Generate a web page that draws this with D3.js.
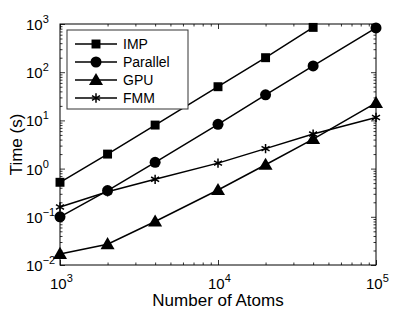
<!DOCTYPE html>
<html>
<head>
<meta charset="utf-8">
<script src="https://cdn.jsdelivr.net/npm/d3@7"></script>
<style>
  body { margin: 0; background: #fff; }
  text { font-family: "Liberation Sans", Arial, sans-serif; fill: #000; }
</style>
</head>
<body>
<svg id="chart"></svg>
<script>
const atoms = [1000, 2000, 4000, 10000, 20000, 40000, 100000];
const impTimes = [0.52, 2.0, 8.0, 50, 200, 850];
const parallelTimes = [0.1, 0.35, 1.35, 8.3, 34, 135, 830];
const gpuTimes = [0.017, 0.027, 0.08, 0.36, 1.2, 4.1, 23];
const fmmTimes = [0.16, 0.33, 0.6, 1.3, 2.6, 5.2, 11.5];
const seriesNames = ["IMP", "Parallel", "GPU", "FMM"];
const xTickExps = [3, 4, 5];
const yTickExps = [-2, -1, 0, 1, 2, 3];

const width = 415, height = 312;
const margin = {left: 60, right: 39, top: 24, bottom: 47};

const svg = d3.select("#chart").attr("width", width).attr("height", height);

const x = d3.scaleLog().domain([1e3, 1e5]).range([margin.left, width - margin.right]);
const y = d3.scaleLog().domain([1e-2, 1e3]).range([height - margin.bottom, margin.top]);

const minorX = [];
for (let e = 3; e < 5; e++) for (let m = 2; m < 10; m++) minorX.push(m * Math.pow(10, e));
const minorY = [];
for (let e = -2; e < 3; e++) for (let m = 2; m < 10; m++) minorY.push(m * Math.pow(10, e));

const x0 = x.range()[0], x1 = x.range()[1], y0 = y.range()[0], y1 = y.range()[1];

// inward ticks on all four sides
function ticks(axisFn, scale, vals, size, tr) {
  svg.append("g").attr("transform", tr)
    .call(axisFn(scale).tickValues(vals).tickSize(size).tickFormat(""))
    .call(g => g.select(".domain").remove())
    .call(g => g.selectAll("line").attr("stroke", "#000").attr("stroke-width", 0.8));
}
const majX = xTickExps.map(e => Math.pow(10, e));
const majY = yTickExps.map(e => Math.pow(10, e));
ticks(d3.axisBottom, x, majX, -5, `translate(0,${y0})`);
ticks(d3.axisBottom, x, minorX, -2.5, `translate(0,${y0})`);
ticks(d3.axisTop, x, majX, -5, `translate(0,${y1})`);
ticks(d3.axisTop, x, minorX, -2.5, `translate(0,${y1})`);
ticks(d3.axisLeft, y, majY, -5, `translate(${x0},0)`);
ticks(d3.axisLeft, y, minorY, -2.5, `translate(${x0},0)`);
ticks(d3.axisRight, y, majY, -5, `translate(${x1},0)`);
ticks(d3.axisRight, y, minorY, -2.5, `translate(${x1},0)`);

svg.append("rect")
  .attr("x", x0).attr("y", y1).attr("width", x1 - x0).attr("height", y0 - y1)
  .attr("fill", "none").attr("stroke", "#000").attr("stroke-width", 1);

// tick labels with superscript exponents
function powLabel(sel, exp) {
  sel.append("tspan").text("10");
  sel.append("tspan").attr("dy", -7).attr("font-size", 11)
    .text(exp < 0 ? "\u2212" + (-exp) : exp);
}
xTickExps.forEach(e => {
  const t = svg.append("text").attr("x", x(Math.pow(10, e)) - 10).attr("y", y0 + 24)
    .attr("font-size", 15);
  powLabel(t, e);
});
yTickExps.forEach(e => {
  const t = svg.append("text").attr("x", x0 - 34).attr("y", y(Math.pow(10, e)) + 6)
    .attr("font-size", 15);
  powLabel(t, e);
});

svg.append("text").attr("x", (x0 + x1) / 2).attr("y", 306)
  .attr("text-anchor", "middle").attr("font-size", 17).text("Number of Atoms");
svg.append("text").attr("transform", `translate(22,${(y0 + y1) / 2}) rotate(-90)`)
  .attr("text-anchor", "middle").attr("font-size", 17).text("Time (s)");

// markers
const sym = {
  IMP: d3.symbol().type(d3.symbolSquare).size(80),
  Parallel: d3.symbol().type(d3.symbolCircle).size(95),
  GPU: d3.symbol().type(d3.symbolTriangle).size(85),
  FMM: d3.symbol().type(d3.symbolAsterisk).size(60)
};
function drawMarker(g, name, px, py) {
  const p = g.append("path").attr("d", sym[name]()).attr("transform", `translate(${px},${py})`);
  if (name === "FMM") p.attr("fill", "none").attr("stroke", "#000").attr("stroke-width", 1.5);
  else if (name === "GPU") p.attr("fill", "#000").attr("transform", `translate(${px},${py + 1})`);
  else p.attr("fill", "#000");
}

const allSeries = [impTimes, parallelTimes, gpuTimes, fmmTimes];
const line = d3.line().x(d => x(d[0])).y(d => y(d[1]));
allSeries.forEach((vals, i) => {
  const pts = vals.map((v, j) => [atoms[j], v]);
  svg.append("path").datum(pts).attr("d", line)
    .attr("fill", "none").attr("stroke", "#000").attr("stroke-width", 1.5);
  const g = svg.append("g");
  pts.forEach(p => drawMarker(g, seriesNames[i], x(p[0]), y(p[1])));
});

// legend
const lg = svg.append("g");
lg.append("rect").attr("x", 67).attr("y", 30).attr("width", 121).attr("height", 79)
  .attr("fill", "#fff").attr("stroke", "#333").attr("stroke-width", 1);
seriesNames.forEach((name, i) => {
  const ly = 44 + i * 18;
  lg.append("line").attr("x1", 75).attr("x2", 117).attr("y1", ly).attr("y2", ly)
    .attr("stroke", "#000").attr("stroke-width", 1.5);
  drawMarker(lg, name, 96, ly);
  lg.append("text").attr("x", 123).attr("y", ly + 5).attr("font-size", 14).text(name);
});
</script>
</body>
</html>
